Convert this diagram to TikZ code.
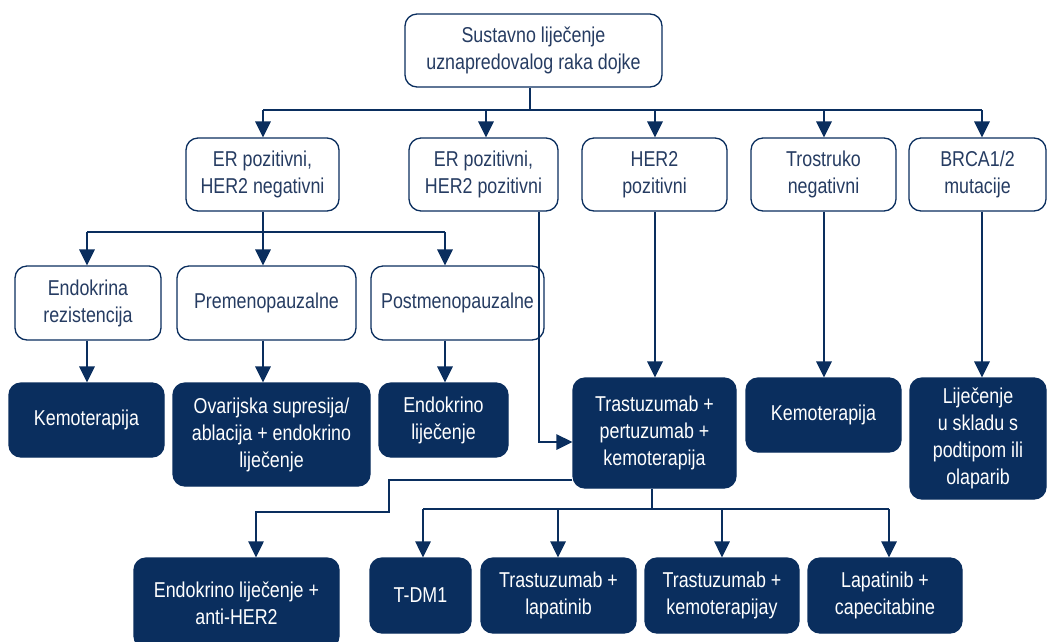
\documentclass[tikz,border=0pt]{standalone}
\usepackage{fontspec}
\setmainfont{Liberation Sans}[FakeStretch=0.83]
\usetikzlibrary{arrows.meta}
\definecolor{navy}{RGB}{10,46,94}
\definecolor{navytext}{RGB}{38,60,98}
\begin{document}
\begin{tikzpicture}[x=1pt,y=-1pt,
  every node/.style={font=\fontsize{21.5}{27}\selectfont},
  lbox/.style={draw=navy, line width=1.3pt, fill=white, rounded corners=12pt, align=center, text=navytext, inner sep=0pt},
  dbox/.style={draw=navy, line width=1.3pt, fill=navy, rounded corners=12pt, align=center, text=white, inner sep=0pt},
  conn/.style={draw=navy, line width=1.8pt},
  thin/.style={draw=navy, line width=1.4pt},
  arr/.style={-{Triangle[width=15.5pt,length=16pt]}},
]
\useasboundingbox (0,0) rectangle (1048,641);

% top
\node[lbox, minimum width=257pt, minimum height=73pt] (top) at (533.5,50.5) {Sustavno liječenje\\uznapredovalog raka dojke};

% level 1
\node[lbox, minimum width=153pt, minimum height=73pt] (a1) at (262.5,174.5) {ER pozitivni,\\HER2 negativni};
\node[lbox, minimum width=149pt, minimum height=73pt] (a2) at (483.5,174.5) {ER pozitivni,\\HER2 pozitivni};
\node[lbox, minimum width=145pt, minimum height=73pt] (a3) at (654.5,174.5) {HER2\\pozitivni};
\node[lbox, minimum width=145pt, minimum height=73pt] (a4) at (823.5,174.5) {Trostruko\\negativni};
\node[lbox, minimum width=137pt, minimum height=73pt] (a5) at (977.5,174.5) {BRCA1/2\\mutacije};

% level 2
\node[lbox, minimum width=146pt, minimum height=74pt] (b1) at (88,303) {Endokrina\\rezistencija};
\node[lbox, minimum width=179pt, minimum height=74pt] (b2) at (266.5,303) {Premenopauzalne};
\node[lbox, minimum width=173pt, minimum height=74pt] (b3) at (457.5,303) {Postmenopauzalne};

% level 3
\node[dbox, minimum width=155pt, minimum height=74pt] (c1) at (86.5,420) {Kemoterapija};
\node[dbox, minimum width=197pt, minimum height=103pt] (c2) at (271.5,434.5) {Ovarijska supresija/\\ablacija + endokrino\\liječenje};
\node[dbox, minimum width=129pt, minimum height=74pt] (c3) at (443.5,420) {Endokrino\\liječenje};
\node[dbox, minimum width=163pt, minimum height=110pt] (c4) at (654.5,433) {Trastuzumab +\\pertuzumab +\\kemoterapija};
\node[dbox, minimum width=155pt, minimum height=74pt] (c5) at (823.5,415) {Kemoterapija};
\node[dbox, minimum width=136pt, minimum height=121pt] (c6) at (978,438.5) {Liječenje\\u skladu s\\podtipom ili\\olaparib};

% bottom
\node[dbox, minimum width=205pt, minimum height=90pt] (d1) at (236.5,603) {Endokrino liječenje +\\anti-HER2};
\node[dbox, minimum width=101pt, minimum height=75pt] (d2) at (420.5,595.5) {T-DM1};
\node[dbox, minimum width=155pt, minimum height=75pt] (d3) at (558.5,595.5) {Trastuzumab +\\lapatinib};
\node[dbox, minimum width=154pt, minimum height=75pt] (d4) at (722,595.5) {Trastuzumab +\\kemoterapijay};
\node[dbox, minimum width=154pt, minimum height=75pt] (d5) at (885,595.5) {Lapatinib +\\capecitabine};

% top bus
\coordinate (j0) at (530,110);
\coordinate (k1) at (263,110);
\coordinate (k2) at (486,110);
\coordinate (k3) at (655,110);
\coordinate (k4) at (824,110);
\coordinate (k5) at (982,110);
\draw[conn] (j0 |- top.south) -- (j0);
\draw[conn] (k1) -- (k5);
\draw[conn,arr] (k1) -- (k1 |- a1.north);
\draw[conn,arr] (k2) -- (k2 |- a2.north);
\draw[conn,arr] (k3) -- (k3 |- a3.north);
\draw[conn,arr] (k4) -- (k4 |- a4.north);
\draw[conn,arr] (k5) -- (k5 |- a5.north);

% ER+ HER2- bus
\coordinate (p0) at (263,232);
\coordinate (p1) at (87,232);
\coordinate (p3) at (445,232);
\draw[conn] (p0 |- a1.south) -- (p0);
\draw[conn] (p1) -- (p3);
\draw[conn,arr] (p1) -- (p1 |- b1.north);
\draw[conn,arr] (p0) -- (p0 |- b2.north);
\draw[conn,arr] (p3) -- (p3 |- b3.north);

% level 2 -> level 3
\draw[conn,arr] (p1 |- b1.south) -- (p1 |- c1.north);
\draw[conn,arr] (p0 |- b2.south) -- (p0 |- c2.north);
\draw[conn,arr] (p3 |- b3.south) -- (p3 |- c3.north);

% ER+ HER2+ -> trastuzumab
\coordinate (e1) at (539,442);
\draw[thin,arr] (e1 |- a2.south) -- (e1) -- (e1 -| c4.west);

% level 1 -> level 3
\draw[conn,arr] (k3 |- a3.south) -- (k3 |- c4.north);
\draw[conn,arr] (k4 |- a4.south) -- (k4 |- c5.north);
\draw[conn,arr] (k5 |- a5.south) -- (k5 |- c6.north);

% bottom bus
\coordinate (q0) at (652,509);
\coordinate (q1) at (423,509);
\coordinate (q2) at (558,509);
\coordinate (q3) at (722,509);
\coordinate (q4) at (889,509);
\draw[thin] (q0 |- c4.south) -- (q0);
\draw[thin] (q1) -- (q4);
\draw[thin,arr] (q1) -- (q1 |- d2.north);
\draw[thin,arr] (q2) -- (q2 |- d3.north);
\draw[thin,arr] (q3) -- (q3 |- d4.north);
\draw[thin,arr] (q4) -- (q4 |- d5.north);

% left branch to endokrino + anti-HER2
\coordinate (r1) at (389,480);
\coordinate (r2) at (256,512);
\draw[thin,arr] (r1 -| c4.west) -- (r1) |- (r2) -- (r2 |- d1.north);
\end{tikzpicture}
\end{document}
